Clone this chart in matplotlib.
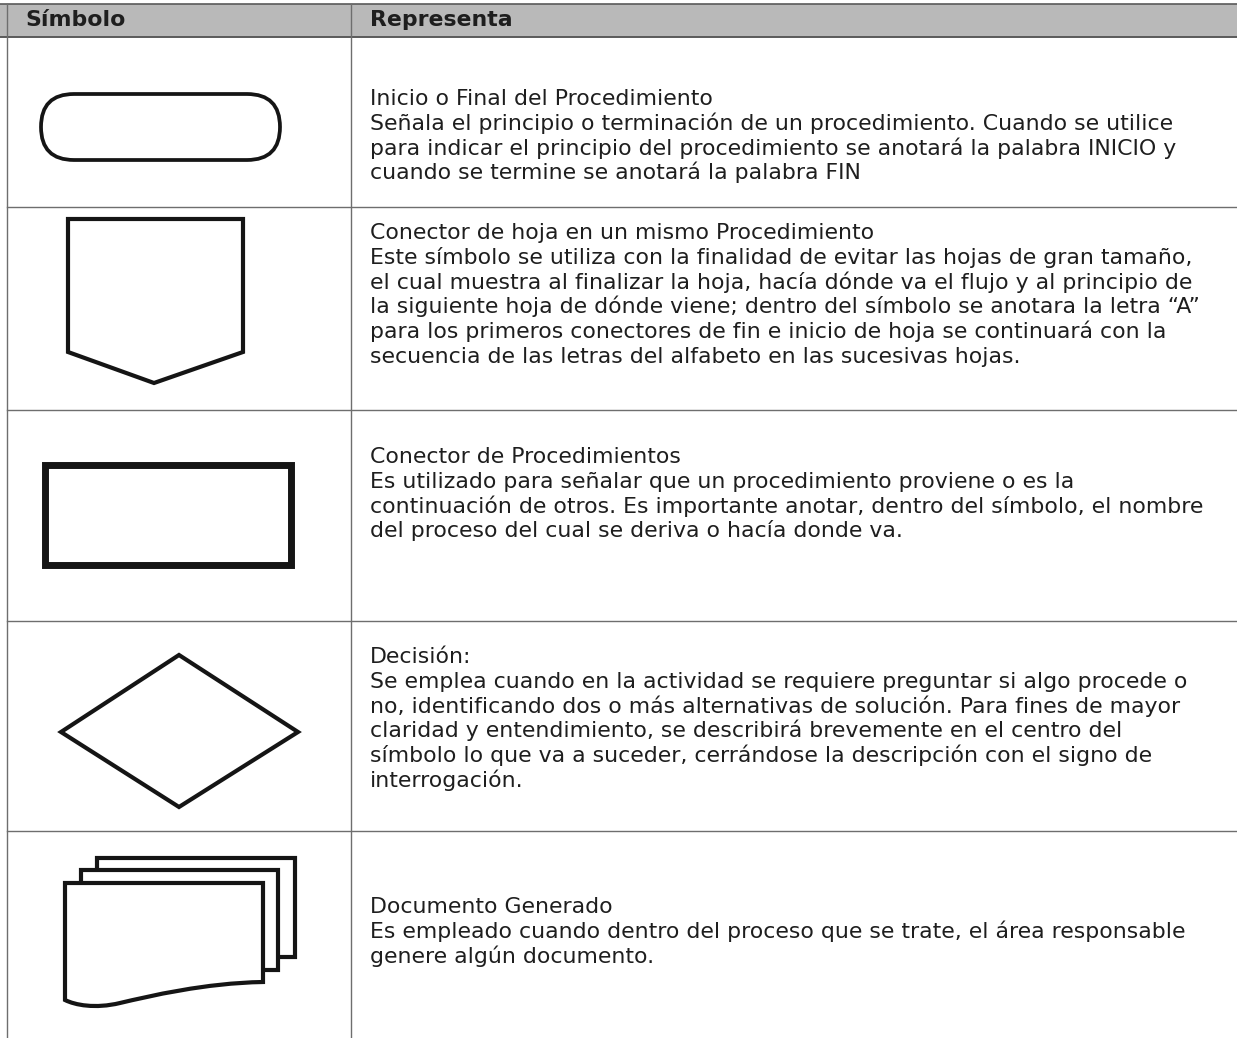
import matplotlib
matplotlib.use("Agg")
import matplotlib.pyplot as plt
from matplotlib.patches import FancyBboxPatch, Polygon, Rectangle, PathPatch
from matplotlib.path import Path

# ---- table content ----
header_cols = ["Símbolo", "Representa"]

row_titles = [
    "Inicio o Final del Procedimiento",
    "Conector de hoja en un mismo Procedimiento",
    "Conector de Procedimientos",
    "Decisión:",
    "Documento Generado",
]

row_texts = [
    ["Señala el principio o terminación de un procedimiento. Cuando se utilice",
     "para indicar el principio del procedimiento se anotará la palabra INICIO y",
     "cuando se termine se anotará la palabra FIN"],
    ["Este símbolo se utiliza con la finalidad de evitar las hojas de gran tamaño,",
     "el cual muestra al finalizar la hoja, hacía dónde va el flujo y al principio de",
     "la siguiente hoja de dónde viene; dentro del símbolo se anotara la letra “A”",
     "para los primeros conectores de fin e inicio de hoja se continuará con la",
     "secuencia de las letras del alfabeto en las sucesivas hojas."],
    ["Es utilizado para señalar que un procedimiento proviene o es la",
     "continuación de otros. Es importante anotar, dentro del símbolo, el nombre",
     "del proceso del cual se deriva o hacía donde va."],
    ["Se emplea cuando en la actividad se requiere preguntar si algo procede o",
     "no, identificando dos o más alternativas de solución. Para fines de mayor",
     "claridad y entendimiento, se describirá brevemente en el centro del",
     "símbolo lo que va a suceder, cerrándose la descripción con el signo de",
     "interrogación."],
    ["Es empleado cuando dentro del proceso que se trate, el área responsable",
     "genere algún documento."],
]

# layout (pixels)
W, H = 1237, 1038
left_x, div_x = 7, 351
header_top, header_bot = 4, 37
row_bottoms = [207, 410, 621, 831]
first_baselines = [105, 239, 463, 663, 913]
line_step = 24.8
text_x = 370
FONT = "DejaVu Sans"
FS = 15.8
ink = "#1e1e1e"
grid = "#6e6e6e"

fig = plt.figure(figsize=(W / 100, H / 100), dpi=100)
ax = fig.add_axes([0, 0, 1, 1])
ax.set_xlim(0, W)
ax.set_ylim(H, 0)
ax.axis("off")

# header band
ax.add_patch(Rectangle((0, header_top), W, header_bot - header_top,
                       facecolor="#b9b9b9", edgecolor="none"))
ax.plot([0, W], [header_top, header_top], color="#5a5a5a", lw=1.2)
ax.plot([0, W], [header_bot, header_bot], color="#5a5a5a", lw=1.4)
ax.text(25, 20.5, header_cols[0], fontfamily=FONT, fontsize=FS, fontweight="bold",
        va="center", ha="left", color=ink)
ax.text(text_x, 20.5, header_cols[1], fontfamily=FONT, fontsize=FS, fontweight="bold",
        va="center", ha="left", color=ink)

# grid lines
ax.plot([left_x, left_x], [header_top, H], color=grid, lw=1.0)
ax.plot([div_x, div_x], [header_top, H], color=grid, lw=1.0)
for yb in row_bottoms:
    ax.plot([left_x, W], [yb, yb], color=grid, lw=1.0)

# texts
for title, lines, b0 in zip(row_titles, row_texts, first_baselines):
    ax.text(text_x, b0, title, fontfamily=FONT, fontsize=FS, va="baseline",
            ha="left", color=ink)
    for i, ln in enumerate(lines):
        ax.text(text_x, b0 + (i + 1) * line_step, ln, fontfamily=FONT, fontsize=FS,
                va="baseline", ha="left", color=ink)

# ---- symbols ----
blk = "#151515"
# 1. terminal (stadium)
x0, y0, x1, y1 = 41, 94, 280, 160
h = y1 - y0
ax.add_patch(FancyBboxPatch((x0, y0), x1 - x0, h,
                            boxstyle=f"round,pad=0,rounding_size={h/2}",
                            facecolor="white", edgecolor=blk, lw=2.7))

# 2. off-page connector (pentagon)
ax.add_patch(Polygon([(68, 219), (243, 219), (243, 352), (154, 383), (68, 352)],
                     closed=True, facecolor="white", edgecolor=blk, lw=3.0,
                     joinstyle="miter"))

# 3. procedure connector (thick rectangle)
ax.add_patch(Rectangle((45, 465), 246, 100, facecolor="white", edgecolor=blk,
                       lw=5.0, joinstyle="miter"))

# 4. decision (diamond)
ax.add_patch(Polygon([(61, 732), (179, 655), (298, 732), (179, 807)],
                     closed=True, facecolor="white", edgecolor=blk, lw=3.0,
                     joinstyle="miter"))

# 5. multiple documents
ax.add_patch(Rectangle((97, 858), 198, 99, facecolor="white", edgecolor=blk,
                       lw=3.0, joinstyle="miter"))
ax.add_patch(Rectangle((81, 870), 197, 100, facecolor="white", edgecolor=blk,
                       lw=3.0, joinstyle="miter"))
verts = [(65, 883), (263, 883), (263, 982),
         (205, 983), (150, 996), (120, 1003),
         (95, 1009), (75, 1005), (65, 1000),
         (65, 883)]
codes = [Path.MOVETO, Path.LINETO, Path.LINETO,
         Path.CURVE4, Path.CURVE4, Path.CURVE4,
         Path.CURVE4, Path.CURVE4, Path.CURVE4,
         Path.CLOSEPOLY]
ax.add_patch(PathPatch(Path(verts, codes), facecolor="white", edgecolor=blk,
                       lw=3.0, joinstyle="miter"))

fig.savefig("out.png", dpi=100, facecolor="white")
